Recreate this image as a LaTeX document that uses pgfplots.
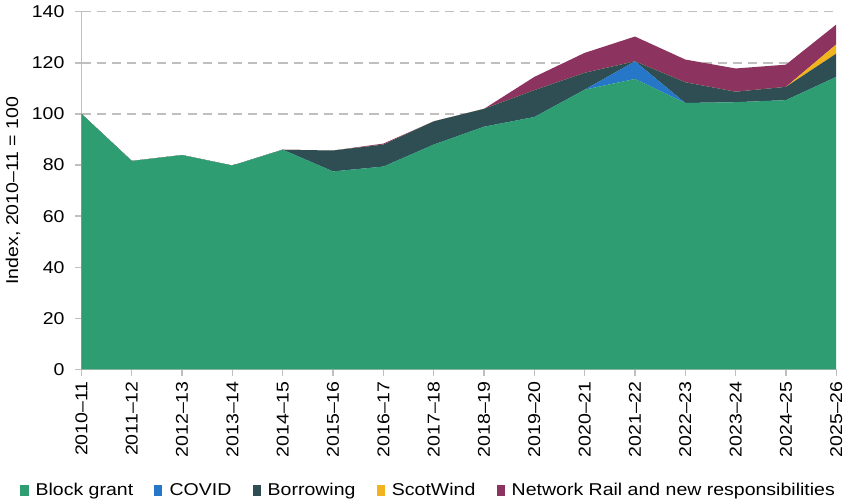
\documentclass[border=0pt]{standalone}
\usepackage{pgfplots}
\pgfplotsset{compat=1.18}
\usepackage{fontspec}
\setmainfont{Liberation Sans}[FakeStretch=1.14]
\definecolor{cgreen}{HTML}{2E9D72}
\definecolor{cblue}{HTML}{2777C9}
\definecolor{cdark}{HTML}{2F4E53}
\definecolor{cyellow}{HTML}{F2B41E}
\definecolor{cpurple}{HTML}{8C335F}
\definecolor{caxis}{HTML}{BFBFBF}
\begin{document}
\fontsize{17}{20}\selectfont
\begin{tikzpicture}
\begin{axis}[
  scale only axis, width=747bp, height=354bp,
  xmin=0, xmax=15, ymin=0, ymax=140,
  stack plots=y,
  xtick={0,...,15},
  xticklabels={2010--11,2011--12,2012--13,2013--14,2014--15,2015--16,2016--17,2017--18,2018--19,2019--20,2020--21,2021--22,2022--23,2023--24,2024--25,2025--26},
  xticklabel style={rotate=90, anchor=east, font=\fontsize{17}{20}\selectfont},
  yticklabel style={font=\fontsize{17}{20}\selectfont, xshift=-5bp},
  /pgf/number format/assume math mode=true,
  ytick={0,20,...,140},
  ymajorgrids,
  grid style={dash pattern=on 9bp off 6bp, caxis, line width=1.3bp},
  separate axis lines,
  axis x line*=bottom, axis y line*=left,
  axis line style={-, draw=caxis, line width=1.3bp},
  tick style={draw=caxis, line width=1.3bp},
  tick align=outside, major tick length=6bp,
  ylabel={Index, 2010--11 = 100},
  ylabel style={font=\fontsize{17}{20}\selectfont},
  legend columns=-1,
  legend style={draw=none, fill=none, at={(0.46,-0.34)}, anchor=center,
    font=\fontsize{17}{20}\selectfont, inner sep=0pt,
    /tikz/every odd column/.append style={column sep=5bp},
    /tikz/every even column/.append style={column sep=19bp}},
  legend image code/.code={\fill[#1] (0bp,-5bp) rectangle (8bp,6bp);},
]
\addplot[fill=cgreen, draw=none] coordinates {
(0,100) (1,81.6) (2,83.9) (3,79.8) (4,86) (5,77.5) (6,79.4) (7,88) (8,95) (9,98.8) (10,109.5) (11,113.7) (12,104.3) (13,104.6) (14,105.4) (15,114.5)} \closedcycle;
\addlegendentry{Block grant}
\addplot[fill=cblue, draw=none] coordinates {
(0,0) (1,0) (2,0) (3,0) (4,0) (5,0) (6,0) (7,0) (8,0) (9,0) (10,0) (11,6.9) (12,0) (13,0) (14,0) (15,0)} \closedcycle;
\addlegendentry{COVID}
\addplot[fill=cdark, draw=none] coordinates {
(0,0) (1,0) (2,0) (3,0) (4,0) (5,8.2) (6,8.6) (7,9.1) (8,7) (9,10.5) (10,6.6) (11,0) (12,8.1) (13,4.1) (14,5.2) (15,9.1)} \closedcycle;
\addlegendentry{Borrowing}
\addplot[fill=cyellow, draw=none] coordinates {
(0,0) (1,0) (2,0) (3,0) (4,0) (5,0) (6,0) (7,0) (8,0) (9,0) (10,0) (11,0) (12,0) (13,0) (14,0) (15,3.6)} \closedcycle;
\addlegendentry{ScotWind}
\addplot[fill=cpurple, draw=none] coordinates {
(0,0) (1,0) (2,0) (3,0) (4,0) (5,0) (6,0.4) (7,0) (8,0) (9,5.2) (10,7.8) (11,9.7) (12,8.9) (13,9.1) (14,8.7) (15,7.8)} \closedcycle;
\addlegendentry{Network Rail and new responsibilities}
\end{axis}
\end{tikzpicture}
\end{document}
